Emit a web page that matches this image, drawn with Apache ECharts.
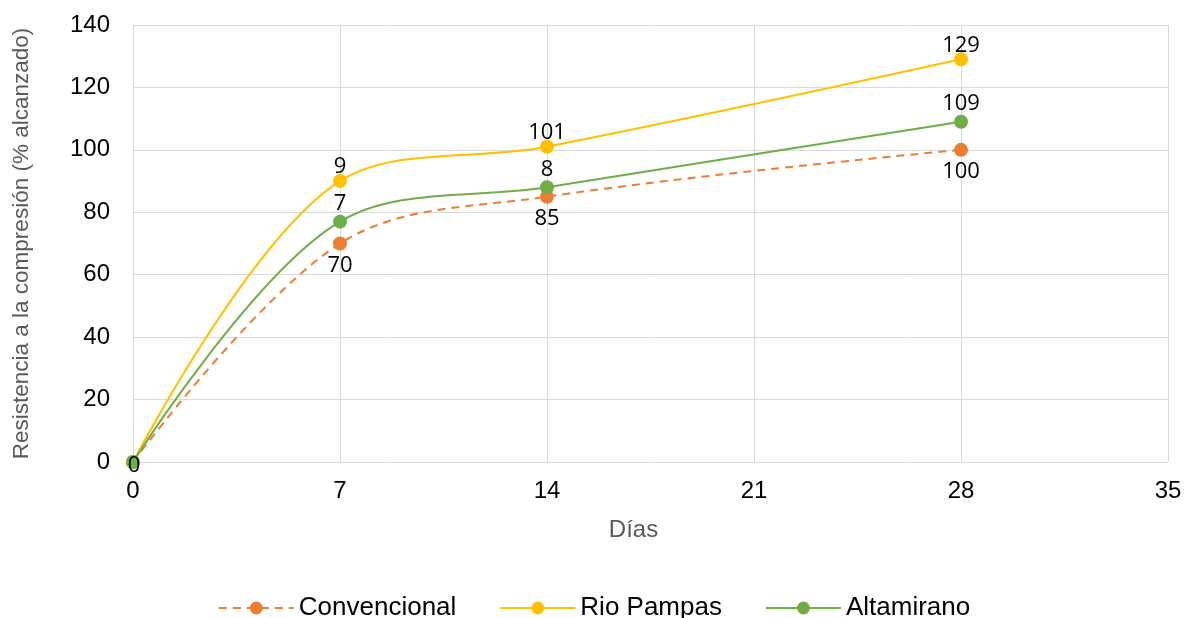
<!DOCTYPE html>
<html>
<head>
<meta charset="utf-8">
<script src="https://cdn.jsdelivr.net/npm/echarts@6/dist/echarts.min.js"></script>
<style>
  html, body { margin: 0; padding: 0; background: #ffffff; }
  #chart { width: 1188px; height: 618px; }
</style>
</head>
<body>
<div id="chart"></div>
<script>
// Curing age (days) and compressive strength reached (% of design)
const days = [0, 7, 14, 28];
const convencional = [0, 70, 85, 100];
const rioPampas = [0, 90, 101, 129];
const altamirano = [0, 77, 88, 109];

// Which point labels are drawn (and which show only their leading digit)
const convShow = [false, true, true, true];
const rioShow = [false, true, true, true];
const altShow = [true, true, true, true];
const rioShort = [false, true, false, false];
const altShort = [false, true, true, false];

const xTicks = [0, 7, 14, 21, 28, 35];
const yTicks = [0, 20, 40, 60, 80, 100, 120, 140];

const labelFont = { fontFamily: 'Open Sans', fontSize: 22, color: '#000000' };

function buildData(values, show, short, position, distance, offset) {
  return values.map((v, i) => ({
    value: [days[i], v],
    label: {
      show: show[i],
      position: position,
      distance: distance,
      offset: offset,
      formatter: (p) => {
        const s = String(p.value[1]);
        return short && short[i] ? s.charAt(0) : s;
      },
      ...labelFont
    }
  }));
}

const convData = buildData(convencional, convShow, null, 'bottom', 4, [0, 0]);
const rioData = buildData(rioPampas, rioShow, rioShort, 'top', 0, [0, 4]);
const altData = buildData(altamirano, altShow, altShort, 'top', 0, [0, 0]);
// origin label sits over the marker
altData[0].label.position = 'inside';
altData[0].label.offset = [1, 4];

const chart = echarts.init(document.getElementById('chart'), null, { renderer: 'canvas' });

chart.setOption({
  animation: false,
  backgroundColor: '#ffffff',
  grid: { left: 133, right: 20, top: 25, bottom: 156, containLabel: false },
  xAxis: {
    type: 'value',
    min: xTicks[0],
    max: xTicks[xTicks.length - 1],
    interval: 7,
    name: 'Días',
    nameLocation: 'middle',
    nameGap: 56,
    nameTextStyle: { fontFamily: 'Liberation Sans', fontSize: 24, color: '#595959', padding: [0, 34, 0, 0] },
    axisLine: { show: false },
    axisTick: { show: false },
    axisLabel: { fontFamily: 'Liberation Sans', fontSize: 24, color: '#000000', margin: 17 },
    splitLine: { show: true, lineStyle: { color: '#d9d9d9', width: 1 } }
  },
  yAxis: {
    type: 'value',
    min: yTicks[0],
    max: yTicks[yTicks.length - 1],
    interval: 20,
    name: 'Resistencia a la compresión (% alcanzado)',
    nameLocation: 'middle',
    nameGap: 100,
    nameTextStyle: { fontFamily: 'Liberation Sans', fontSize: 22.5, color: '#595959' },
    axisLine: { show: false },
    axisTick: { show: false },
    axisLabel: { fontFamily: 'Liberation Sans', fontSize: 24, color: '#000000', margin: 23 },
    splitLine: { show: true, lineStyle: { color: '#d9d9d9', width: 1 } }
  },
  legend: {
    top: 590,
    left: 'center',
    itemWidth: 75,
    itemHeight: 16,
    itemGap: 43,
    textStyle: { fontFamily: 'Liberation Sans', fontSize: 26, color: '#000000' },
    data: ['Convencional', 'Rio Pampas', 'Altamirano']
  },
  series: [
    {
      name: 'Convencional',
      type: 'line',
      smooth: 0.35,
      data: convData,
      symbol: 'circle',
      symbolSize: 14,
      itemStyle: { color: '#ED7D31' },
      lineStyle: { color: '#ED7D31', width: 2, type: [8, 6] },
      z: 2
    },
    {
      name: 'Rio Pampas',
      type: 'line',
      smooth: 0.35,
      data: rioData,
      symbol: 'circle',
      symbolSize: 14,
      itemStyle: { color: '#FFC000' },
      lineStyle: { color: '#FFC000', width: 2 },
      z: 3
    },
    {
      name: 'Altamirano',
      type: 'line',
      smooth: 0.35,
      data: altData,
      symbol: 'circle',
      symbolSize: 14,
      itemStyle: { color: '#70AD47' },
      lineStyle: { color: '#70AD47', width: 2 },
      z: 4
    }
  ]
});
</script>
</body>
</html>
